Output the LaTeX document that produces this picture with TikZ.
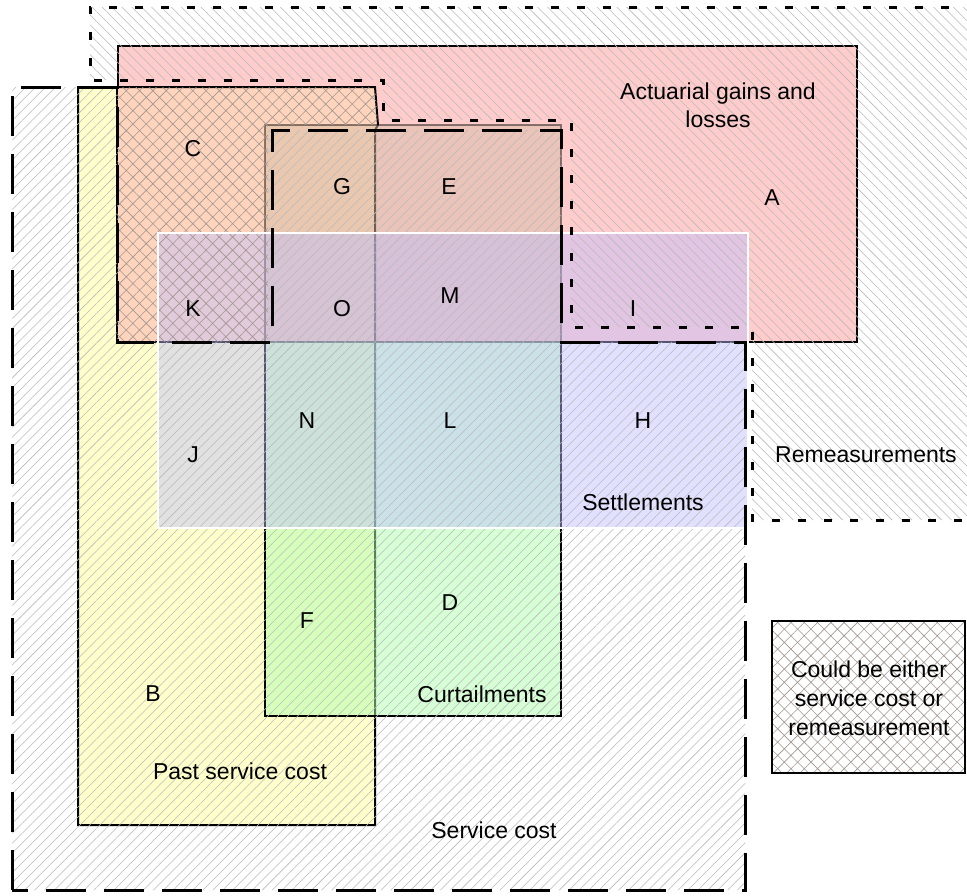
\documentclass[tikz,border=0pt]{standalone}
\usepackage{fontspec}
\setmainfont{Liberation Sans}
\usetikzlibrary{patterns.meta}
\definecolor{pinkA}{RGB}{255,204,204}
\definecolor{yelB}{RGB}{255,255,153}
\definecolor{peachC}{RGB}{255,212,188}
\definecolor{tanE}{RGB}{215,190,165}
\definecolor{grnD}{RGB}{175,255,175}
\definecolor{blueS}{RGB}{190,190,255}
\definecolor{hatchc}{RGB}{185,185,185}
\definecolor{xhatchc}{RGB}{160,150,145}
\begin{document}
\begin{tikzpicture}[x=1pt,y=-1pt,
  lbl/.style={font=\fontsize{23}{28}\selectfont, anchor=base, inner sep=0pt},
  lbl2/.style={font=\fontsize{23}{28}\selectfont, anchor=base, inner sep=0pt, align=center},
  svcline/.style={line width=3pt, dash pattern=on 40pt off 18pt},
  remline/.style={line width=3pt, dash pattern=on 8pt off 18pt},
  boxline/.style={line width=2pt},
  svchatch/.style={pattern={Lines[angle=45,distance=7pt,line width=0.55pt]}, pattern color=hatchc},
  remhatch/.style={pattern={Lines[angle=-45,distance=7pt,line width=0.55pt]}, pattern color=hatchc},
  xhatch/.style={pattern={Hatch[angle=45,distance=9.4pt,line width=0.6pt]}, pattern color=xhatchc},
]
\useasboundingbox (0,0) rectangle (967,895);
\fill[white] (0,0) rectangle (967,895);
\begin{scope}
\clip (0,0) rectangle (967,895);
% A: actuarial gains and losses
\fill[pinkA] (118,46) rectangle (857,342);
\draw[boxline] (118,46) rectangle (857,342);
% B: past service cost
\fill[yelB, opacity=0.5] (78,87) rectangle (375,825);
% C: overlap area
\fill[peachC] (117,87) -- (375,87) -- (378,125) -- (375,125) -- (375,342) -- (117,342) -- cycle;
\draw[boxline] (78,825) -- (78,87) -- (375,87) -- (378,125) -- (375,130) -- (375,825) -- cycle;
\draw[boxline] (117,87) -- (117,342) -- (375,342);
% E box
\fill[tanE, opacity=0.5] (265,125) rectangle (561,342);
\draw[boxline, black, opacity=0.45] (265,342) -- (265,125) -- (561,125) -- (561,342);
% Curtailments
\fill[grnD, opacity=0.5] (265,342) rectangle (561,716);
\draw[boxline] (265,342) -- (265,716) -- (561,716) -- (561,342);
% Settlements
\fill[blueS, opacity=0.45] (158,233) rectangle (748,528);
% hatches
\fill[svchatch] (12,87) -- (117,87) -- (117,342) -- (268,342) -- (268,130) -- (561,130) -- (561,342) -- (745,342) -- (745,890) -- (12,890) -- cycle;
\fill[remhatch] (975,7) -- (90,7) -- (90,80) -- (383,80) -- (383,120) -- (571,120) -- (571,327) -- (752,327) -- (752,520) -- (975,520) -- cycle;
\fill[xhatch] (117,87) -- (375,87) -- (378,125) -- (268,125) -- (268,342) -- (117,342) -- cycle;
\draw[white, line width=2pt] (158,233) rectangle (748,528);
% service cost outline
\draw[svcline] (12,890) -- (12,87) -- (117,87) -- (117,342) -- (272,342) -- (272,130) -- (561,130) -- (561,342) -- (745,342) -- (745,890) -- cycle;
% remeasurements outline
\draw[remline] (975,7) -- (90,7) -- (90,80) -- (383,80) -- (383,120) -- (571,120) -- (571,327) -- (752,327) -- (752,520) -- (975,520);
% legend box
\draw[line width=1.5pt, xhatch] (772,621) rectangle (965,773);
\draw[line width=1.5pt] (772,621) rectangle (965,773);
\end{scope}
% labels
\node[lbl2] (tA) at (718,127) {Actuarial gains and\\losses};
\node[lbl] (lA) at (772,205) {A};
\node[lbl] (lC) at (193,156) {C};
\node[lbl] (lG) at (342,194) {G};
\node[lbl] (lE) at (449,194) {E};
\node[lbl] (lK) at (193,316) {K};
\node[lbl] (lO) at (342,316) {O};
\node[lbl] (lM) at (450,303) {M};
\node[lbl] (lI) at (633,316) {I};
\node[lbl] (lN) at (307,428) {N};
\node[lbl] (lL) at (450,428) {L};
\node[lbl] (lH) at (643,428) {H};
\node[lbl] (lJ) at (193,462) {J};
\node[lbl] (tS) at (643,510) {Settlements};
\node[lbl] (tR) at (866,462) {Remeasurements};
\node[lbl] (lF) at (307,628) {F};
\node[lbl] (lD) at (450,610) {D};
\node[lbl] (lB) at (153,701) {B};
\node[lbl] (tC) at (482,702) {Curtailments};
\node[lbl] (tP) at (240,779) {Past service cost};
\node[lbl] (tSC) at (494,838) {Service cost};
\node[lbl2, font=\fontsize{23}{29}\selectfont] (tL) at (869,735) {Could be either\\service cost or\\remeasurement};
\end{tikzpicture}
\end{document}
